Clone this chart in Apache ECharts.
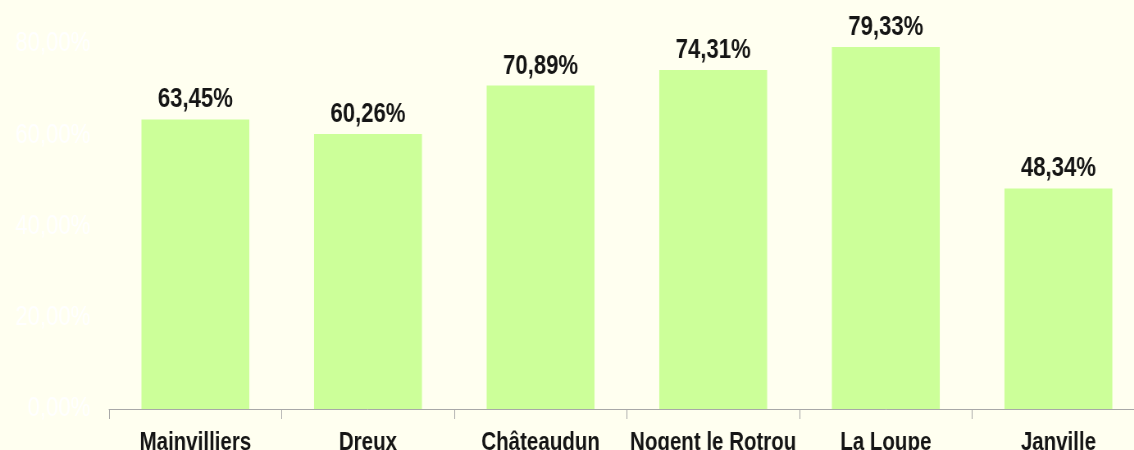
<!DOCTYPE html>
<html>
<head>
<meta charset="utf-8">
<script src="https://cdn.jsdelivr.net/npm/echarts@6/dist/echarts.min.js"></script>
<style>
  html, body { margin: 0; padding: 0; background: #fffff0; overflow: hidden; }
  /* the original uses a condensed face: draw wider, then squeeze horizontally */
  #chart {
    width: 1396px;
    height: 450px;
    transform: scaleX(0.82);
    transform-origin: 0 0;
  }
</style>
</head>
<body>
<div id="chart"></div>
<script>
// ===== data =====
const communes = ['Mainvilliers', 'Dreux', 'Châteaudun', 'Nogent le Rotrou', 'La Loupe', 'Janville'];
const rates = [63.45, 60.26, 70.89, 74.31, 79.33, 48.34];

const labelFont = '"Liberation Sans", Arial, sans-serif';

// 63.45 -> "63,45%"
function pct(v) {
  return v.toFixed(2).replace('.', ',') + '%';
}

const chart = echarts.init(document.getElementById('chart'));

chart.setOption({
  animation: false,
  backgroundColor: '#fffff0',
  grid: {
    left: 133,
    right: 0,
    top: 44,
    bottom: 41,
    outerBoundsMode: 'none'
  },
  xAxis: {
    type: 'category',
    data: communes,
    axisLine: { lineStyle: { color: '#a8a8a8', width: 1 } },
    axisTick: { show: true, length: 10, lineStyle: { color: '#a8a8a8' } },
    axisLabel: {
      interval: 0,
      margin: 22,
      color: '#151515',
      fontFamily: labelFont,
      fontWeight: 'bold',
      fontSize: 25
    }
  },
  yAxis: {
    type: 'value',
    min: 0,
    max: 80,
    interval: 20,
    axisLine: { show: false },
    axisTick: { show: false },
    splitLine: { show: false },
    axisLabel: {
      margin: 23,
      color: '#ffffff',
      fontFamily: labelFont,
      fontSize: 27,
      formatter: v => pct(v)
    }
  },
  series: [
    {
      type: 'bar',
      data: rates,
      barWidth: '62.5%',
      itemStyle: { color: '#ccff99' },
      label: {
        show: true,
        position: 'top',
        distance: 6,
        color: '#151515',
        fontFamily: labelFont,
        fontWeight: 'bold',
        fontSize: 27,
        formatter: p => pct(p.value)
      }
    }
  ]
});
</script>
</body>
</html>
